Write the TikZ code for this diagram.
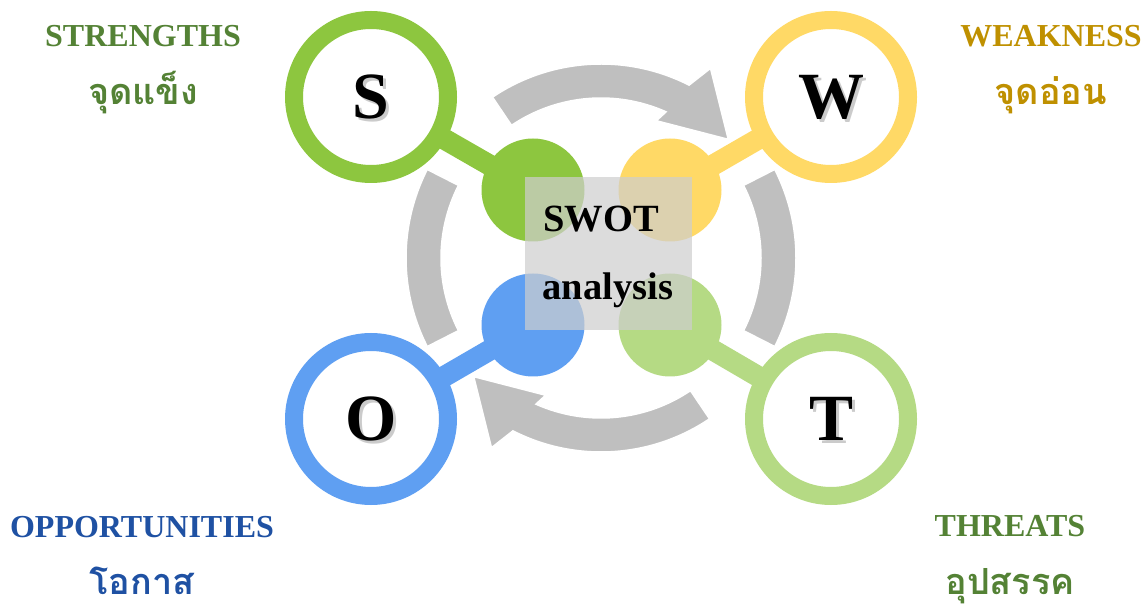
\documentclass[tikz,border=0pt]{standalone}
\usepackage{fontspec}
\setmainfont{Liberation Serif}
\newfontfamily\thaifont[Script=Thai]{Loma}
\usetikzlibrary{backgrounds}
\definecolor{sgreen}{HTML}{8DC63F}
\definecolor{wyellow}{HTML}{FFD966}
\definecolor{oblue}{HTML}{5F9FF2}
\definecolor{tgreen}{HTML}{B5DA84}
\definecolor{arcgray}{HTML}{BFBFBF}
\definecolor{sdark}{HTML}{548235}
\definecolor{wdark}{HTML}{BF9000}
\definecolor{odark}{HTML}{1F51A3}
\definecolor{boxgray}{RGB}{206,206,206}
\begin{document}
\begin{tikzpicture}[x=1pt, y=1pt,
  ring/.style={circle, draw=#1, line width=18pt, fill=white, minimum size=154pt, inner sep=0pt},
  hub/.style={circle, fill=#1, minimum size=103pt, inner sep=0pt},
  bar/.style={draw=#1, line width=21pt},
  letter/.style={font=\bfseries\fontsize{66}{66}\selectfont},
  shade/.style={letter, text=black!40, opacity=0.5},
  title/.style={font=\bfseries\fontsize{32}{32}\selectfont, text=#1, anchor=base},
  thai/.style={font=\thaifont\bfseries\fontsize{36}{36}\selectfont, text=#1, anchor=base, inner sep=0pt},
  turn/.style={fill=arcgray, draw=white, line width=1.5pt}]
\useasboundingbox (0,0) rectangle (1148,605);
\coordinate (C) at (601,347);

% big rings
\node[ring=sgreen] (S) at (371,508) {};
\node[ring=wyellow] (W) at (831,508) {};
\node[ring=oblue] (O) at (371,186) {};
\node[ring=tgreen] (T) at (831,186) {};
% hubs
\node[hub=sgreen] (s) at (533,415) {};
\node[hub=wyellow] (w) at (670,415) {};
\node[hub=oblue] (o) at (533,280) {};
\node[hub=tgreen] (t) at (670,280) {};

\begin{scope}[on background layer, shift={(C)}]
\draw[turn] (153:160) arc[start angle=153, end angle=207, radius=160] -- (207:195) arc[start angle=207, end angle=153, radius=195] -- cycle;
\draw[turn] (-27:160) arc[start angle=-27, end angle=27, radius=160] -- (27:195) arc[start angle=27, end angle=-27, radius=195] -- cycle;
\foreach \r in {0,180}
  \draw[turn, rotate=\r] (124:194) arc[start angle=124, end angle=63, radius=194] -- (60:219) -- (43:174) -- (68:148) -- (66:160) arc[start angle=66, end angle=124, radius=160] -- cycle;
\end{scope}

\begin{scope}[on background layer]
\draw[bar=sgreen] (S.center) -- (s.center);
\draw[bar=wyellow] (W.center) -- (w.center);
\draw[bar=oblue] (O.center) -- (o.center);
\draw[bar=tgreen] (T.center) -- (t.center);
\end{scope}

% letters with shadow
\foreach \n in {S,W,O,T} {
  \node[shade] (\n shade) at ([shift={(3,-3)}]\n) {\n};
  \node[letter] (\n letter) at (\n) {\n};
}

% centre box
\node[fill=boxgray, fill opacity=0.71, minimum width=167pt, minimum height=153pt, inner sep=0pt] (box) at (608.5,351.5) {};
\node[font=\bfseries\fontsize{38.5}{38.5}\selectfont, anchor=base] (swot) at (601,373) {SWOT};
\node[font=\bfseries\fontsize{38.5}{38.5}\selectfont, anchor=base] (anal) at (608,305) {analysis};

% labels
\node[title=sdark] (st) at (143,558) {STRENGTHS};
\node[thai=sdark] (sth) at (143,500) {จุดแข็ง};
\node[title=wdark] (wt) at (1051,558) {WEAKNESS};
\node[thai=wdark] (wth) at (1051,500) {จุดอ่อน};
\node[title=odark] (ot) at (142,67) {OPPORTUNITIES};
\node[thai=odark] (oth) at (142,11) {โอกาส};
\node[title=sdark] (tt) at (1010,68) {THREATS};
\node[thai=sdark] (tth) at (1010,11) {อุปสรรค};
\end{tikzpicture}
\end{document}
